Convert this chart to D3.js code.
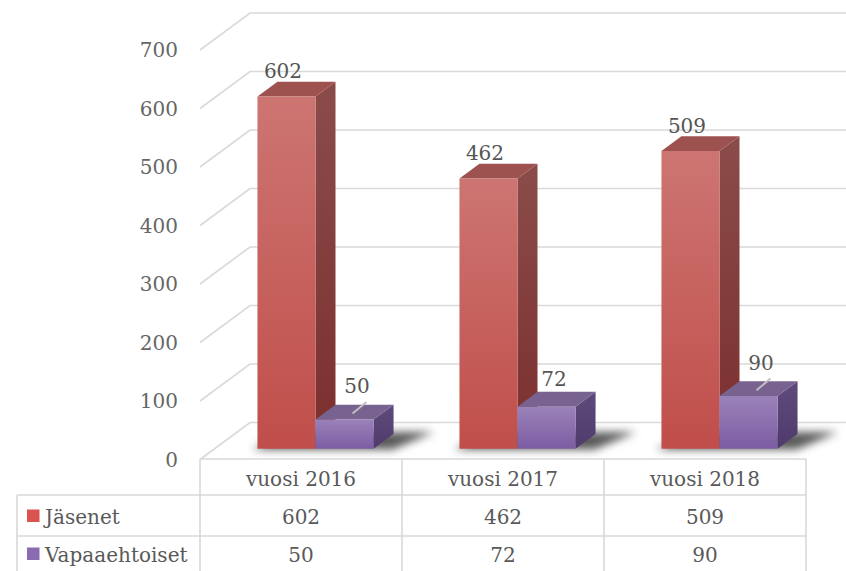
<!DOCTYPE html>
<html><head><meta charset="utf-8">
<script src="https://cdn.jsdelivr.net/npm/d3@7"></script>
<style>body{margin:0;background:#fff}svg{display:block}</style>
</head><body><svg id="c" width="846" height="571"></svg>
<script>
const categories = ["vuosi 2016", "vuosi 2017", "vuosi 2018"];
const seriesNames = ["Jäsenet", "Vapaaehtoiset"];
const jasenet = [602, 462, 509];
const vapaaehtoiset = [50, 72, 90];
const yTicks = [0, 100, 200, 300, 400, 500, 600, 700];
const leaderLines = [true, false, true];

const seriesValues = [jasenet, vapaaehtoiset];
const colors = [
  {frontTop:"#cd7572", frontBot:"#c04e4a", sideTop:"#8a4c4a", sideBot:"#7b2f2d", top:"#9d524f", key:"#d9534f"},
  {frontTop:"#9a82b9", frontBot:"#7c5ca3", sideTop:"#5f4b7b", sideBot:"#503a6d", top:"#786290", key:"#8a6bb3"}
];

const svg = d3.select("#c");
const FONT = "DejaVu Serif";
const GRID = "#d9d9d9";
const DX = 50, DY = 37;          // depth of the 3D box
const zF = 0.29, zB = 0.69;     // bar front/back depth fraction

const x = d3.scaleBand().domain(categories).range([200, 806]).paddingInner(0).paddingOuter(0);
const xi = d3.scaleBand().domain(seriesNames).range([0, x.bandwidth()]).paddingInner(0).paddingOuter(0.74);
const y = d3.scaleLinear().domain([0, 700]).range([459.5, 50]);

const P = (px, v, z) => [px + DX*z, y(v) - DY*z];
const poly = pts => "M" + pts.map(p => p.join(",")).join("L") + "Z";

const defs = svg.append("defs");
colors.forEach((c, i) => {
  const g1 = defs.append("linearGradient").attr("id","gf"+i).attr("x1",0).attr("y1",0).attr("x2",0).attr("y2",1);
  g1.append("stop").attr("offset","0%").attr("stop-color",c.frontTop);
  g1.append("stop").attr("offset","100%").attr("stop-color",c.frontBot);
  const g2 = defs.append("linearGradient").attr("id","gs"+i).attr("x1",0).attr("y1",0).attr("x2",0).attr("y2",1);
  g2.append("stop").attr("offset","0%").attr("stop-color",c.sideTop);
  g2.append("stop").attr("offset","100%").attr("stop-color",c.sideBot);
});
defs.append("filter").attr("id","blur").attr("x","-50%").attr("y","-50%").attr("width","200%").attr("height","200%")
  .append("feGaussianBlur").attr("stdDeviation", 4);

// gridlines: side wall diagonal + back wall horizontal
const grid = svg.append("g").attr("stroke", GRID).attr("stroke-width", 1.6).attr("fill","none");
yTicks.forEach(t => {
  if (t === 0) return;
  const a = P(200, t, 0), b = P(200, t, 1);
  grid.append("path").attr("d", `M${a}L${b}L${860},${b[1]}`);
});
// floor
const f0 = P(200,0,0), f1 = P(200,0,1);
grid.append("path").attr("d", `M${f0}L${f1}L${860},${f1[1]}`);

// axis labels
svg.append("g").selectAll("text").data(yTicks).join("text")
  .attr("x", 178).attr("y", d => y(d)).attr("dy","0.36em")
  .attr("text-anchor","end").attr("font-family",FONT).attr("font-size",20)
  .attr("fill","#666").text(d => d);

// shadows
const sh = svg.append("g").attr("filter","url(#blur)");
categories.forEach(cat => {
  const l = x(cat) + xi(seriesNames[0]) - 4;
  const r = x(cat) + xi(seriesNames[1]) + xi.bandwidth() + 6;
  sh.append("path").attr("d", poly([P(l,0,zF-0.02), P(r+14,0,zF-0.02), P(r+32,0,zB+0.05), P(l+10,0,zB+0.05)]))
    .attr("fill","#000").attr("opacity",0.65);
});

// bars
const bars = svg.append("g");
categories.forEach((cat, ci) => {
  seriesNames.forEach((s, si) => {
    const v = seriesValues[si][ci];
    const x0 = x(cat) + xi(s), x1 = x0 + xi.bandwidth();
    const g = bars.append("g");
    g.append("path").attr("d", poly([P(x1,0,zF), P(x1,v,zF), P(x1,v,zB), P(x1,0,zB)])).attr("fill",`url(#gs${si})`);
    g.append("path").attr("d", poly([P(x0,v,zF), P(x1,v,zF), P(x1,v,zB), P(x0,v,zB)])).attr("fill",colors[si].top);
    g.append("path").attr("d", poly([P(x0,0,zF), P(x1,0,zF), P(x1,v,zF), P(x0,v,zF)])).attr("fill",`url(#gf${si})`);
  });
});

// data labels
const lab = svg.append("g").attr("font-family",FONT).attr("font-size",20).attr("fill","#555").attr("text-anchor","middle");
categories.forEach((cat, ci) => {
  const v0 = jasenet[ci];
  const c0 = x(cat) + xi(seriesNames[0]) + xi.bandwidth()/2;
  lab.append("text").attr("x", c0 + 11).attr("y", y(v0) - 29).text(v0);
  const v1 = vapaaehtoiset[ci];
  const c1 = x(cat) + xi(seriesNames[1]) + xi.bandwidth()/2;
  if (leaderLines[ci]) {
    const a = P(c1, v1, 0.45), b = P(c1 + 18, v1 + 25, 0.45);
    svg.append("line").attr("x1",a[0]).attr("y1",a[1]).attr("x2",b[0]-4).attr("y2",b[1]+3)
      .attr("stroke","#bfbfbf").attr("stroke-width",2);
    lab.append("text").attr("x", c1 + 27).attr("y", y(v1) - 37).text(v1);
  } else {
    lab.append("text").attr("x", c1 + 22).attr("y", y(v1) - 31).text(v1);
  }
});

// data table
const tbl = svg.append("g").attr("stroke", GRID).attr("stroke-width", 1.6);
const rowY = [459, 495, 536, 571];
const left = 17, right = x.range()[1];
tbl.append("line").attr("x1",200).attr("x2",right).attr("y1",rowY[0]).attr("y2",rowY[0]);
[rowY[1], rowY[2]].forEach(ry => tbl.append("line").attr("x1",left).attr("x2",right).attr("y1",ry).attr("y2",ry));
tbl.append("line").attr("x1",left).attr("x2",left).attr("y1",rowY[1]).attr("y2",571);
categories.forEach(cat => tbl.append("line").attr("x1",x(cat)).attr("x2",x(cat)).attr("y1",rowY[0]).attr("y2",571));
tbl.append("line").attr("x1",right).attr("x2",right).attr("y1",rowY[0]).attr("y2",571);

const tt = svg.append("g").attr("font-family",FONT).attr("font-size",20).attr("fill","#595959");
categories.forEach((cat, ci) => {
  const cx = x(cat) + x.bandwidth()/2;
  tt.append("text").attr("x",cx).attr("y",(rowY[0]+rowY[1])/2 + 2).attr("dy","0.36em").attr("text-anchor","middle").text(cat);
  seriesValues.forEach((vals, si) => {
    tt.append("text").attr("x",cx).attr("y",(rowY[si+1]+rowY[si+2])/2 + 1).attr("dy","0.36em").attr("text-anchor","middle").text(vals[ci]);
  });
});
seriesNames.forEach((s, si) => {
  const cy = (rowY[si+1]+rowY[si+2])/2;
  svg.append("rect").attr("x",27).attr("y",cy-6).attr("width",12.5).attr("height",12.5).attr("fill",colors[si].key);
  tt.append("text").attr("x",45).attr("y",cy + 1).attr("dy","0.36em").text(s);
});
</script></body></html>
